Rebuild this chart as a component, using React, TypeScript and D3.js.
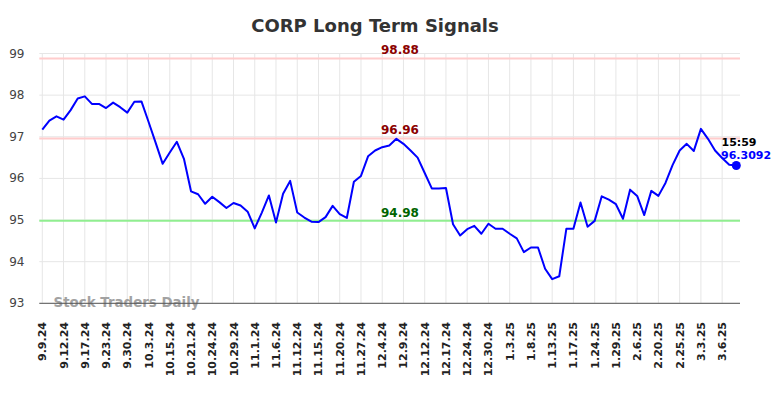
import React from "react";
import * as d3 from "d3";

const tickLabels = [
  "9.9.24", "9.12.24", "9.17.24", "9.23.24", "9.30.24", "10.3.24", "10.15.24", "10.21.24",
  "10.24.24", "10.29.24", "11.1.24", "11.6.24", "11.12.24", "11.15.24", "11.20.24", "11.27.24",
  "12.4.24", "12.9.24", "12.12.24", "12.17.24", "12.24.24", "12.30.24", "1.3.25", "1.8.25",
  "1.13.25", "1.17.25", "1.24.25", "1.29.25", "2.6.25", "2.20.25", "2.25.25", "3.3.25", "3.6.25",
];
const tickStep = 3;

const prices = [
  97.17, 97.39, 97.49, 97.41, 97.64, 97.92, 97.97, 97.79, 97.79, 97.69,
  97.82, 97.71, 97.58, 97.84, 97.85, 97.36, 96.86, 96.35, 96.62, 96.88,
  96.47, 95.69, 95.62, 95.39, 95.56, 95.43, 95.29, 95.41, 95.35, 95.2,
  94.8, 95.18, 95.59, 94.94, 95.63, 95.94, 95.18, 95.06, 94.96, 94.95,
  95.07, 95.34, 95.14, 95.05, 95.92, 96.06, 96.53, 96.67, 96.75, 96.79,
  96.95, 96.83, 96.67, 96.5, 96.13, 95.76, 95.76, 95.77, 94.9, 94.63,
  94.78, 94.86, 94.67, 94.91, 94.79, 94.79, 94.67, 94.56, 94.23, 94.34,
  94.34, 93.83, 93.58, 93.65, 94.79, 94.79, 95.42, 94.84, 94.98, 95.57,
  95.49, 95.38, 95.03, 95.73, 95.58, 95.12, 95.7, 95.58, 95.89, 96.32,
  96.67, 96.83, 96.66, 97.19, 96.95, 96.67, 96.49, 96.33, 96.3092,
];

const yTicks = [93, 94, 95, 96, 97, 98, 99];
const resistanceLevels = [98.88, 96.96];
const supportLevels = [94.98];
const lastTime = "15:59";
const lastValueLabel = "96.3092";
const title = "CORP Long Term Signals";
const watermark = "Stock Traders Daily";

const W = 784;
const H = 398;
const plotLeft = 39.3;
const plotRight = 740;
const FONT = "'DejaVu Sans', sans-serif";

export default function App() {
  const x = d3.scaleLinear().domain([0, prices.length - 1]).range([42.3, 736.3]);
  const y = d3.scaleLinear().domain([93, 99]).range([303.3, 53.5]);
  const line = d3
    .line<number>()
    .x((_, i) => x(i))
    .y((d) => y(d));
  const lastIdx = prices.length - 1;
  const levelLabelX = 400;

  return (
    <svg
      width={W}
      height={H}
      style={{ position: "absolute", left: 0, top: 0, background: "#fff" }}
      fontFamily={FONT}
    >
      <text x={375} y={32} textAnchor="middle" fontSize={18} fontWeight="bold" fill="#333">
        {title}
      </text>

      {/* horizontal grid */}
      {yTicks.map((t) => (
        <line key={"hg" + t} x1={plotLeft} x2={plotRight} y1={y(t)} y2={y(t)} stroke="#e6e6e6" strokeWidth={1} />
      ))}
      {/* vertical grid */}
      {tickLabels.map((lab, k) => (
        <line
          key={"vg" + lab}
          x1={x(k * tickStep)}
          x2={x(k * tickStep)}
          y1={y(99)}
          y2={y(93)}
          stroke="#e6e6e6"
          strokeWidth={1}
        />
      ))}

      {/* y tick labels */}
      {yTicks.map((t) => (
        <text key={"yl" + t} x={24.5} y={y(t) + 4} textAnchor="end" fontSize={12} fill="#444">
          {t}
        </text>
      ))}

      {/* level lines */}
      {resistanceLevels.map((v) => (
        <line key={"rl" + v} x1={plotLeft} x2={plotRight} y1={y(v)} y2={y(v)} stroke="#ffcccc" strokeWidth={2} />
      ))}
      {supportLevels.map((v) => (
        <line key={"sl" + v} x1={plotLeft} x2={plotRight} y1={y(v)} y2={y(v)} stroke="#90ee90" strokeWidth={2} />
      ))}

      {/* watermark */}
      <text x={53.5} y={307} fontSize={13.4} fontWeight="bold" fill="#999" opacity={0.9}>
        {watermark}
      </text>

      {/* bottom axis line */}
      <line x1={plotLeft} x2={plotRight} y1={y(93)} y2={y(93)} stroke="#555" strokeWidth={1} />

      {/* price line */}
      <path d={line(prices) || ""} fill="none" stroke="#0000ff" strokeWidth={2} strokeLinejoin="round" />
      <circle cx={x(lastIdx)} cy={y(prices[lastIdx])} r={4.5} fill="#0000ff" />

      {/* level labels */}
      {resistanceLevels.map((v) => (
        <text key={"rt" + v} x={levelLabelX} y={y(v) - 4} textAnchor="middle" fontSize={12} fontWeight="bold" fill="#8b0000">
          {v.toFixed(2)}
        </text>
      ))}
      {supportLevels.map((v) => (
        <text key={"st" + v} x={levelLabelX} y={y(v) - 4} textAnchor="middle" fontSize={12} fontWeight="bold" fill="#006400">
          {v.toFixed(2)}
        </text>
      ))}

      {/* last value annotation */}
      <text x={721.5} y={146} fontSize={11} fontWeight="bold" fill="#000">
        {lastTime}
      </text>
      <text x={721} y={159} fontSize={11} fontWeight="bold" fill="#0000ff">
        {lastValueLabel}
      </text>

      {/* x tick labels */}
      {tickLabels.map((lab, k) => {
        const px = x(k * tickStep);
        return (
          <text
            key={"xl" + lab}
            transform={`translate(${px + 4},322) rotate(-90)`}
            textAnchor="end"
            fontSize={11}
            fontWeight="bold"
            fill="#222"
          >
            {lab}
          </text>
        );
      })}
    </svg>
  );
}
